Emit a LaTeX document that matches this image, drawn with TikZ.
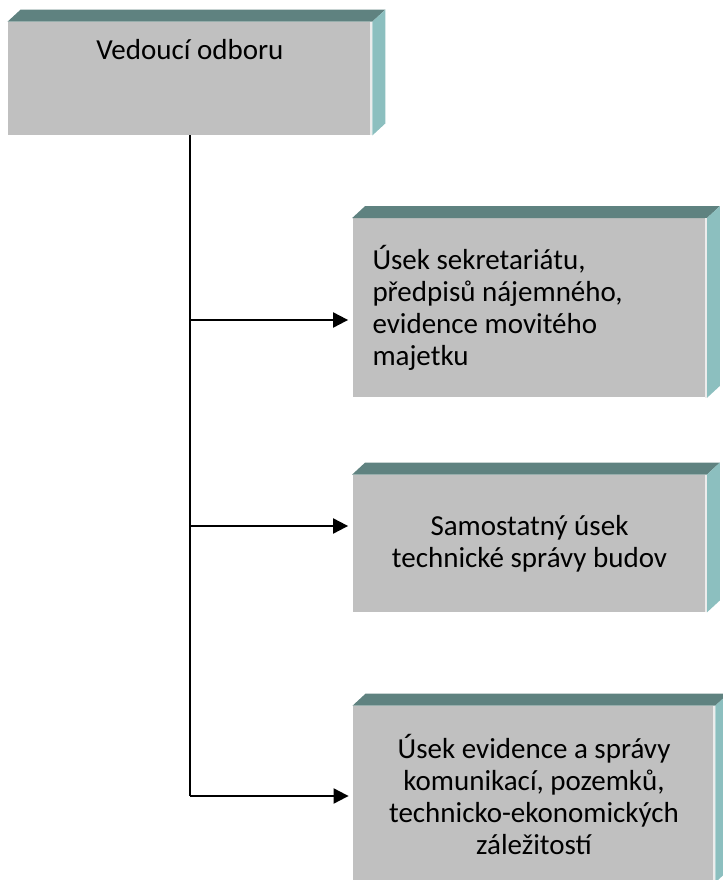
\documentclass[tikz,border=0pt]{standalone}
\usepackage{fontspec}
\setmainfont{Carlito}
\usetikzlibrary{arrows.meta}
\definecolor{boxgray}{HTML}{C0C0C0}
\definecolor{topteal}{HTML}{5F8280}
\definecolor{sideteal}{HTML}{8CBFBF}

\begin{document}
\begin{tikzpicture}[x=0.5pt, y=0.5pt, every node/.style={font=\fontsize{14.5}{16}\selectfont},
	box/.style={fill=boxgray, inner sep=0pt, anchor=center},
	link/.style={line width=1pt, -{Triangle[length=7.5pt,width=7.5pt]}, shorten >=2pt}]
	\useasboundingbox (0,0) rectangle (723,880);
	\node[box, minimum width=182pt, text height=19pt, text depth=37.5pt] (lead) at (190,801.5) {Vedoucí odboru};
	\node[box, minimum width=177pt, minimum height=89.5pt, align=flush left, text width=157pt] (sekr) at (529.5,572) {Úsek sekretariátu,\\předpisů nájemného,\\evidence movitého\\majetku};
	\node[box, minimum width=177pt, minimum height=68.5pt, align=center] (samo) at (529.5,336.5) {Samostatný úsek\\technické správy budov};
	\node[box, minimum width=181pt, minimum height=88pt, align=center] (kom) at (534,86) {Úsek evidence a správy\\komunikací, pozemků,\\technicko-ekonomických\\záležitostí};
	\foreach \b in {lead,sekr,samo,kom}{
		\fill[topteal] (\b.north west) -- ++(13,12) -- ([shift={(13,12)}]\b.north east) -- (\b.north east) -- cycle;
		\fill[sideteal] (\b.north east) -- ++(13,12) -- ([shift={(13,12)}]\b.south east) -- (\b.south east) -- cycle;
		\draw[white!70!boxgray, line width=1pt] ([xshift=-0.5pt]\b.north east) -- ([xshift=-0.5pt]\b.south east);
	}
	\coordinate (j1) at (190,560);
	\coordinate (j2) at (190,354);
	\coordinate (j3) at (190,84);
	\draw[line width=1pt] (lead.south) -- (j3);
	\draw[link] (j1) -- (sekr.west |- j1);
	\draw[link] (j2) -- (samo.west |- j2);
	\draw[link] (j3) -- (kom.west |- j3);
\end{tikzpicture}
\end{document}
